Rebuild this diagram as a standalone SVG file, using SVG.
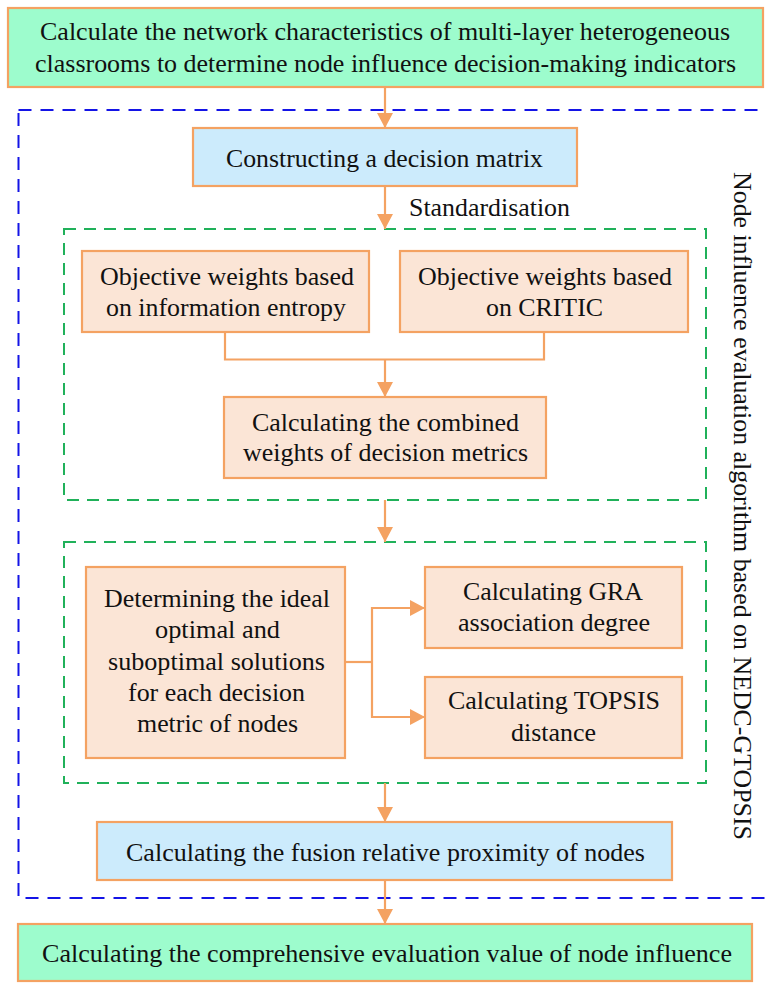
<svg xmlns="http://www.w3.org/2000/svg" width="765" height="983" viewBox="0 0 765 983">
<style>
text{font-family:'Liberation Serif','Times New Roman',serif;font-size:26px;fill:#111;}
.c{text-anchor:middle;}
.green{fill:#9DFCCD;stroke:#F4A262;stroke-width:2.2;}
.blue{fill:#CCEBFC;stroke:#F4A262;stroke-width:2.2;}
.peach{fill:#FBE5D6;stroke:#F4A262;stroke-width:2.2;}
.conn{fill:none;stroke:#F4A262;stroke-width:2.2;}
.bdash{fill:none;stroke:#1414E6;stroke-width:2;stroke-dasharray:13 9;}
.gdash{fill:none;stroke:#20B15A;stroke-width:2;stroke-dasharray:12 8;}
</style>
<defs>
<marker id="ah" markerUnits="userSpaceOnUse" markerWidth="16" markerHeight="16" refX="15" refY="8" orient="auto">
<path d="M0,0 L15,8 L0,16 z" fill="#F4A262"/>
</marker>
</defs>
<rect width="765" height="983" fill="#fff"/>

<g id="algorithm-frame">
<rect class="bdash" x="18.5" y="110" width="760" height="788"/>
<text transform="translate(734,506) rotate(90)" class="c" textLength="668" lengthAdjust="spacingAndGlyphs">Node influence evaluation algorithm based on NEDC-GTOPSIS</text>
</g>
<g id="weights-frame"><rect class="gdash" x="64" y="229" width="642" height="271"/></g>
<g id="solutions-frame"><rect class="gdash" x="64" y="542" width="642" height="241"/></g>

<g id="connectors">
<line class="conn" x1="385" y1="87" x2="385" y2="128" marker-end="url(#ah)"/>
<line class="conn" x1="385" y1="186" x2="385" y2="229" marker-end="url(#ah)"/>
<polyline class="conn" points="225,332 225,359.5 544,359.5 544,332"/>
<line class="conn" x1="385" y1="359.5" x2="385" y2="397" marker-end="url(#ah)"/>
<line class="conn" x1="385" y1="500" x2="385" y2="542" marker-end="url(#ah)"/>
<line class="conn" x1="345" y1="662" x2="372" y2="662"/>
<polyline class="conn" points="425,608 372,608 372,717 425,717"/>
<line class="conn" x1="372" y1="608" x2="425" y2="608" marker-end="url(#ah)"/>
<line class="conn" x1="372" y1="717" x2="425" y2="717" marker-end="url(#ah)"/>
<line class="conn" x1="385" y1="783" x2="385" y2="822" marker-end="url(#ah)"/>
<line class="conn" x1="385" y1="880" x2="385" y2="924" marker-end="url(#ah)"/>
<text x="409" y="216" textLength="161" lengthAdjust="spacingAndGlyphs">Standardisation</text>
</g>

<g id="n-network">
<rect class="green" x="8" y="8" width="755" height="79"/>
<text class="c" x="385" y="40" textLength="690" lengthAdjust="spacingAndGlyphs">Calculate the network characteristics of multi-layer heterogeneous</text>
<text class="c" x="385.5" y="71.5" textLength="701" lengthAdjust="spacingAndGlyphs">classrooms to determine node influence decision-making indicators</text>
</g>

<g id="n-matrix">
<rect class="blue" x="193" y="128" width="384" height="58"/>
<text class="c" x="384.5" y="166.5" textLength="317" lengthAdjust="spacingAndGlyphs">Constructing a decision matrix</text>
</g>

<g id="n-entropy">
<rect class="peach" x="82" y="251" width="287" height="81"/>
<text class="c" x="227" y="285" textLength="254" lengthAdjust="spacingAndGlyphs">Objective weights based</text>
<text class="c" x="226" y="315.5" textLength="240" lengthAdjust="spacingAndGlyphs">on information entropy</text>
</g>

<g id="n-critic">
<rect class="peach" x="400" y="251" width="288" height="81"/>
<text class="c" x="545" y="285" textLength="254" lengthAdjust="spacingAndGlyphs">Objective weights based</text>
<text class="c" x="544.5" y="315.5" textLength="117" lengthAdjust="spacingAndGlyphs">on CRITIC</text>
</g>

<g id="n-combined">
<rect class="peach" x="224" y="397" width="322" height="81"/>
<text class="c" x="385.5" y="430.5" textLength="267" lengthAdjust="spacingAndGlyphs">Calculating the combined</text>
<text class="c" x="385.5" y="461" textLength="285" lengthAdjust="spacingAndGlyphs">weights of decision metrics</text>
</g>

<g id="n-ideal">
<rect class="peach" x="86" y="567" width="259" height="191"/>
<text class="c" x="217" y="607" textLength="226" lengthAdjust="spacingAndGlyphs">Determining the ideal</text>
<text class="c" x="217.5" y="638" textLength="125" lengthAdjust="spacingAndGlyphs">optimal and</text>
<text class="c" x="216.5" y="670" textLength="217" lengthAdjust="spacingAndGlyphs">suboptimal solutions</text>
<text class="c" x="216.5" y="701" textLength="177" lengthAdjust="spacingAndGlyphs">for each decision</text>
<text class="c" x="217.5" y="732" textLength="161" lengthAdjust="spacingAndGlyphs">metric of nodes</text>
</g>

<g id="n-gra">
<rect class="peach" x="425" y="567" width="257" height="81"/>
<text class="c" x="553" y="600" textLength="180" lengthAdjust="spacingAndGlyphs">Calculating GRA</text>
<text class="c" x="554" y="631" textLength="192" lengthAdjust="spacingAndGlyphs">association degree</text>
</g>

<g id="n-topsis">
<rect class="peach" x="425" y="677" width="257" height="81"/>
<text class="c" x="554" y="709" textLength="212" lengthAdjust="spacingAndGlyphs">Calculating TOPSIS</text>
<text class="c" x="553.5" y="741" textLength="85" lengthAdjust="spacingAndGlyphs">distance</text>
</g>

<g id="n-fusion">
<rect class="blue" x="97" y="822" width="575" height="58"/>
<text class="c" x="385.5" y="861" textLength="519" lengthAdjust="spacingAndGlyphs">Calculating the fusion relative proximity of nodes</text>
</g>

<g id="n-final">
<rect class="green" x="18" y="924" width="734" height="57"/>
<text class="c" x="387" y="961.5" textLength="690" lengthAdjust="spacingAndGlyphs">Calculating the comprehensive evaluation value of node influence</text>
</g>
</svg>
